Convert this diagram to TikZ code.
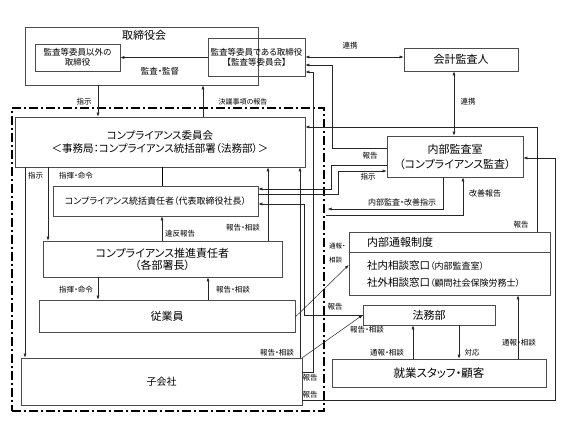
\documentclass[tikz,border=0pt]{standalone}
\usepackage{fontspec}
\setmainfont[RawFeature=+palt]{Noto Sans CJK JP}
\usetikzlibrary{arrows.meta}

\begin{document}
\begin{tikzpicture}[x=1pt, y=-1pt]
\tikzstyle{every node}=[font=\fontsize{7.5}{9}\selectfont, inner sep=0pt]
\tikzstyle{box}=[draw=black!70, line width=0.6pt, align=center]
\tikzstyle{big}=[font=\fontsize{11}{15}\selectfont]
\tikzstyle{mid}=[font=\fontsize{8.5}{10}\selectfont]
\tikzstyle{arr}=[-{Latex[length=4pt, width=3pt]}, line width=0.5pt, draw=black!85]
\tikzstyle{arrboth}=[{Latex[length=4pt, width=3pt]}-{Latex[length=4pt, width=3pt]}, line width=0.5pt, draw=black!85]
\tikzstyle{dashframe}=[draw, line width=1.1pt, dash pattern=on 9pt off 3pt on 2pt off 3pt]

\useasboundingbox (0,0) rectangle (580,435);

% 取締役会
\node[box, minimum width=233, minimum height=58] (board) at (141.5,56) {};
    \node[big] (boardtitle) at (144,35) {取締役会};
\node[box, mid, minimum width=85, minimum height=27] (other) at (77.5,57.5) {監査等委員以外の\\取締役};
\node[box, mid, minimum width=97, minimum height=38] (audit) at (256.5,57.5) {監査等委員である取締役\\【監査等委員会】};
\draw[arr] (audit.west) -- (other.east);
    \node[mid] (l-kansa) at (160,71) {監査・監督};

\node[box, big, minimum width=114, minimum height=23] (kaikei) at (461,59.5) {会計監査人};
\draw[arrboth] (audit.east |- 0,57) -- (kaikei.west |- 0,57);
    \node (l-renkei1) at (350,46) {連携};

% 社内の枠
\node[dashframe, minimum width=312, minimum height=303] (frame) at (168,259.5) {};

\node[box, font=\fontsize{10.5}{12.5}\selectfont, minimum width=290, minimum height=50] (comm) at (160,142)
    {コンプライアンス委員会\\＜事務局：コンプライアンス統括部署（法務部）＞};
\draw[arr] (board.south -| 98,0) -- (comm.north -| 98,0);
    \node (l-shiji1) at (84,102) {指示};
\draw[arr] (comm.north -| 203,0) -- (board.south -| 203,0);
    \node[font=\fontsize{7}{8}\selectfont] (l-ketsugi) at (243,102) {決議事項の報告};

\node[box, font=\fontsize{9}{10}\selectfont, minimum width=205, minimum height=30] (toukatsu) at (155.5,201)
    {コンプライアンス統括責任者（代表取締役社長）};
\node[box, big, font=\fontsize{11}{12}\selectfont, minimum width=239, minimum height=36] (suishin) at (162.5,259)
    {コンプライアンス推進責任者\\（各部署長）};
\node[box, big, minimum width=256, minimum height=32] (jugyoin) at (167,316) {従業員};
\node[box, font=\fontsize{10}{12}\selectfont, minimum width=281, minimum height=47] (kogaisha) at (161.5,381.5) {子会社};

\draw[arr] (comm.south -| 25,0) -- (kogaisha.north -| 25,0);
    \node[anchor=west] (l-shiji2) at (28,176) {指示};
\draw[arr] (comm.south -| 48,0) -- (suishin.north -| 48,0);
    \node (l-shiki1) at (76,176) {指揮・命令};
\draw (comm.south -| 162,0) -- (toukatsu.north -| 162,0);
\draw[arr] (suishin.north -| 162,0) -- (toukatsu.south -| 162,0);
    \node (l-ihan) at (180,234) {違反報告};
\draw[arr] (suishin.north -| 268,0) -- (comm.south -| 268,0);
    \node (l-houkoku1) at (243,228) {報告・相談};
\draw[arr] (suishin.south -| 98,0) -- (jugyoin.north -| 98,0);
    \node (l-shiki2) at (76,290) {指揮・命令};
\draw[arr] (jugyoin.north -| 208,0) -- (suishin.south -| 208,0);
    \node (l-houkoku2) at (233,290) {報告・相談};
\draw[arr] (kogaisha.north -| 300,0) -- (comm.south -| 300,0);
    \node (l-houkoku3) at (277,353) {報告・相談};

% 内部監査室
\node[box, big, minimum width=136, minimum height=41] (naibu) at (455,156.5) {内部監査室\\（コンプライアンス監査）};
\draw[arrboth] (kaikei.south -| 454,0) -- (naibu.north -| 454,0);
    \node (l-renkei2) at (468,102) {連携};
\draw[arr] (naibu.west |- 0,148) -| (332,65) -- (audit.east |- 0,65);
    \node (l-houkoku4) at (370,156) {報告};
\draw[arr] (naibu.west |- 0,165) -| (331,189) -- (toukatsu.east |- 0,189);
\draw[arr] (toukatsu.east |- 0,194) -| (338,171) -- (naibu.west |- 0,171);
    \node (l-shiji3) at (368,177) {指示};
\draw[arr] (naibu.south -| 443,0) |- ([xshift=3pt]frame.east |- 0,209);
    \node[font=\fontsize{8}{9}\selectfont] (l-kansashiji) at (402,202) {内部監査・改善指示};
\draw[arr] ([xshift=1pt]frame.east |- 0,215) -| (naibu.south -| 463,0);
    \node[font=\fontsize{8}{9}\selectfont] (l-kaizen) at (485,193) {改善報告};

% 内部通報制度
\node[box, minimum width=201, minimum height=63] (tsuho) at (449.5,263.5) {};
\draw[draw=black!70, line width=0.6pt] (tsuho.west |- 0,252) -- (tsuho.east |- 0,252);
    \node[anchor=west, big] (tsuhotitle) at (367,242) {内部通報制度};
    \node[anchor=west, font=\fontsize{10.5}{12}\selectfont] (madoguchi1) at (367,266) {社内相談窓口{\fontsize{9}{10}\selectfont（内部監査室）}};
    \node[anchor=west, font=\fontsize{10.5}{12}\selectfont] (madoguchi2) at (367,283) {社外相談窓口{\fontsize{9}{10}\selectfont（顧問社会保険労務士）}};
\draw[arr] (jugyoin.east |- 0,317) -- (tsuho.west |- 0,265);
    \node[anchor=north west, align=left, font=\fontsize{6.5}{14}\selectfont] (l-tsuho1) at (329,243) {通報・\\相談};
\draw[arr] (tsuho.north -| 537,0) |- (comm.east |- 0,127);
    \node (l-houkoku5) at (521,225) {報告};

% 法務部
\node[box, big, minimum width=132, minimum height=20] (houmu) at (429,315) {法務部};
\draw[arr] (kogaisha.north east) -- (houmu.west);
    \node (l-houkoku6) at (367,330) {報告・相談};
\draw[arr] (houmu.west) -| (304,204) -- (toukatsu.east |- 0,204);
    \node (l-houkoku7) at (335,307) {報告};
\draw[arr] (kogaisha.east |- 0,372) -| (313,72) -- (audit.east |- 0,72);
    \node (l-houkoku8) at (310,378) {報告};
\draw[arr] (kogaisha.east |- 0,400) -| (555,158) -- (naibu.east |- 0,158);
    \node (l-houkoku9) at (310,395) {報告};

% 就業スタッフ・顧客
\node[box, big, font=\fontsize{11.5}{13}\selectfont, minimum width=214, minimum height=28] (shugyo) at (439,373) {就業スタッフ・顧客};
\draw[arr] (shugyo.north -| 413,0) -- (houmu.south -| 413,0);
    \node (l-tsuho2) at (387,353) {通報・相談};
\draw[arr] (houmu.south -| 459,0) -- (shugyo.north -| 459,0);
    \node (l-taiou) at (472,353) {対応};
\draw[arr] (shugyo.north -| 518,0) -- (tsuho.south -| 518,0);
    \node (l-tsuho3) at (519,343) {通報・相談};

\end{tikzpicture}
\end{document}
